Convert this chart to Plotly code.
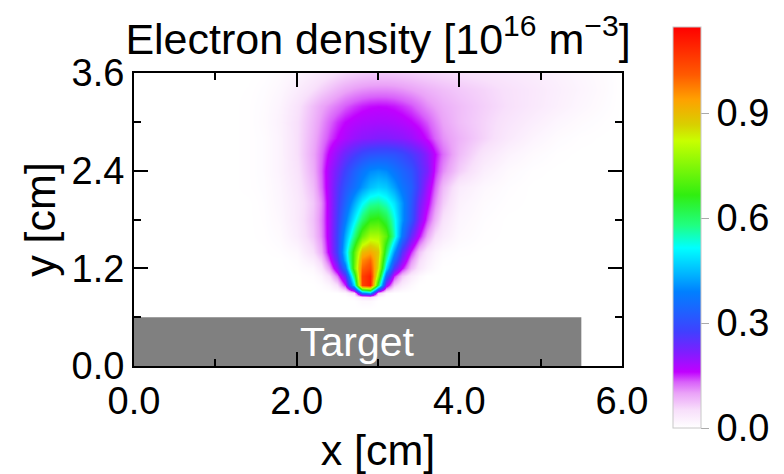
import plotly.graph_objects as go

# ---- data ----
x_cm = [0.0, 1.2, 1.4, 1.6, 1.8, 2.0,
        2.2, 2.3, 2.4, 2.5, 2.6, 2.7, 2.8,
        2.9, 3.0, 3.1, 3.2, 3.3, 3.4, 3.5,
        3.6, 3.7, 3.8, 4.0, 4.3, 4.6,
        4.9, 5.2, 5.5, 5.8, 6.0]
y_cm = [0.7, 0.8, 0.85, 0.9, 1.0, 1.1, 1.2, 1.3, 1.4, 1.6, 1.8, 2.0, 2.2,
        2.4, 2.6, 2.8, 3.0, 3.2, 3.4, 3.6]

# electron density [1e16 m^-3], one list per y row, columns follow x_cm
ne_070 = [0, 0, 0, 0, 0, 0,  0, 0, 0, 0, 0, 0, 0,  0, 0, 0, 0, 0, 0, 0,  0, 0, 0, 0, 0, 0,  0, 0, 0, 0, 0]
ne_080 = [0, 0, 0, 0, 0, 0,  0, 0, 0, 0, 0, 0, 0.01,  0.01, 0, 0, 0, 0, 0, 0,  0, 0, 0, 0, 0, 0,  0, 0, 0, 0, 0]
ne_085 = [0, 0, 0, 0, 0, 0,  0, 0, 0, 0, 0, 0.01, 0.04,  0.05, 0.01, 0, 0, 0, 0, 0,  0, 0, 0, 0, 0, 0,  0, 0, 0, 0, 0]
ne_090 = [0, 0, 0, 0, 0, 0,  0, 0, 0, 0, 0.008, 0.05, 0.36,  0.42, 0.07, 0.008, 0, 0, 0, 0,  0, 0, 0, 0, 0, 0,  0, 0, 0, 0, 0]
ne_100 = [0, 0, 0, 0, 0, 0,  0, 0.004, 0.015, 0.05, 0.15, 0.48, 1.05,  1.1, 0.62, 0.2, 0.07, 0.03, 0.01, 0,  0, 0, 0, 0, 0, 0,  0, 0, 0, 0, 0]
ne_110 = [0, 0, 0, 0, 0, 0,  0.004, 0.015, 0.05, 0.12, 0.24, 0.6, 1.05,  1.1, 0.76, 0.34, 0.15, 0.07, 0.03, 0.01,  0, 0, 0, 0, 0, 0,  0, 0, 0, 0, 0]
ne_120 = [0, 0, 0, 0, 0, 0.003,  0.012, 0.04, 0.1, 0.2, 0.36, 0.72, 1.0,  1.04, 0.84, 0.48, 0.26, 0.16, 0.08, 0.04,  0.018, 0.006, 0, 0, 0, 0,  0, 0, 0, 0, 0]
ne_130 = [0, 0, 0, 0, 0, 0.006,  0.03, 0.065, 0.14, 0.25, 0.44, 0.71, 0.96,  1.0, 0.86, 0.55, 0.34, 0.21, 0.11, 0.055,  0.027, 0.011, 0.003, 0, 0, 0,  0, 0, 0, 0, 0]
ne_140 = [0, 0, 0, 0, 0.003, 0.012,  0.05, 0.09, 0.17, 0.28, 0.47, 0.7, 0.9,  0.93, 0.88, 0.61, 0.41, 0.25, 0.15, 0.075,  0.038, 0.017, 0.007, 0.002, 0, 0,  0, 0, 0, 0, 0]
ne_160 = [0, 0, 0, 0.002, 0.008, 0.03,  0.07, 0.11, 0.18, 0.28, 0.43, 0.58, 0.72,  0.79, 0.79, 0.71, 0.55, 0.37, 0.24, 0.16,  0.095, 0.05, 0.03, 0.01, 0.002, 0,  0, 0, 0, 0, 0]
ne_180 = [0, 0, 0, 0.003, 0.012, 0.035,  0.075, 0.115, 0.18, 0.27, 0.38, 0.5, 0.6,  0.67, 0.68, 0.63, 0.53, 0.41, 0.31, 0.21,  0.14, 0.085, 0.045, 0.015, 0.004, 0,  0, 0, 0, 0, 0]
ne_200 = [0, 0, 0, 0.004, 0.015, 0.035,  0.07, 0.11, 0.18, 0.26, 0.34, 0.43, 0.51,  0.56, 0.57, 0.54, 0.49, 0.41, 0.32, 0.23,  0.17, 0.11, 0.065, 0.022, 0.007, 0.002,  0, 0, 0, 0, 0]
ne_220 = [0, 0, 0.002, 0.005, 0.017, 0.04,  0.08, 0.125, 0.185, 0.25, 0.31, 0.36, 0.41,  0.45, 0.47, 0.46, 0.42, 0.37, 0.33, 0.26,  0.19, 0.13, 0.08, 0.032, 0.012, 0.004,  0, 0, 0, 0, 0]
ne_240 = [0, 0, 0.002, 0.006, 0.02, 0.045,  0.09, 0.13, 0.185, 0.23, 0.28, 0.33, 0.37,  0.4, 0.41, 0.4, 0.37, 0.34, 0.31, 0.26,  0.22, 0.15, 0.11, 0.065, 0.026, 0.009,  0.002, 0, 0, 0, 0]
ne_260 = [0, 0, 0.002, 0.006, 0.02, 0.05,  0.095, 0.125, 0.165, 0.2, 0.235, 0.265, 0.29,  0.305, 0.31, 0.31, 0.305, 0.29, 0.265, 0.24,  0.205, 0.16, 0.125, 0.08, 0.042, 0.02,  0.008, 0.002, 0, 0, 0]
ne_280 = [0, 0, 0.002, 0.006, 0.02, 0.05,  0.09, 0.115, 0.14, 0.16, 0.178, 0.195, 0.205,  0.21, 0.215, 0.215, 0.21, 0.205, 0.193, 0.175,  0.155, 0.13, 0.108, 0.086, 0.06, 0.036,  0.018, 0.007, 0.002, 0, 0]
ne_300 = [0, 0, 0.002, 0.008, 0.022, 0.05,  0.085, 0.106, 0.128, 0.146, 0.16, 0.17, 0.177,  0.18, 0.182, 0.181, 0.178, 0.172, 0.162, 0.15,  0.135, 0.115, 0.098, 0.078, 0.06, 0.043,  0.028, 0.015, 0.007, 0.002, 0]
ne_320 = [0, 0, 0.002, 0.007, 0.019, 0.045,  0.078, 0.095, 0.108, 0.12, 0.133, 0.144, 0.152,  0.157, 0.159, 0.158, 0.154, 0.147, 0.137, 0.124,  0.11, 0.1, 0.09, 0.078, 0.063, 0.05,  0.037, 0.025, 0.014, 0.005, 0]
ne_340 = [0, 0, 0.001, 0.005, 0.013, 0.03,  0.05, 0.062, 0.073, 0.084, 0.094, 0.102, 0.107,  0.11, 0.111, 0.111, 0.109, 0.105, 0.099, 0.093,  0.087, 0.082, 0.077, 0.069, 0.059, 0.048,  0.038, 0.027, 0.017, 0.007, 0]
ne_360 = [0, 0, 0, 0.002, 0.008, 0.017,  0.03, 0.037, 0.044, 0.051, 0.057, 0.062, 0.066,  0.068, 0.069, 0.069, 0.068, 0.066, 0.064, 0.061,  0.059, 0.057, 0.055, 0.051, 0.045, 0.038,  0.031, 0.023, 0.014, 0.006, 0]

density_rows = [ne_070, ne_080, ne_085, ne_090, ne_100, ne_110, ne_120, ne_130,
                ne_140, ne_160, ne_180, ne_200, ne_220, ne_240, ne_260, ne_280,
                ne_300, ne_320, ne_340, ne_360]

cbar_ticks = [0.0, 0.3, 0.6, 0.9]
x_ticks = [0.0, 2.0, 4.0, 6.0]
y_ticks = [0.0, 1.2, 2.4, 3.6]
target_x = [0.0, 5.5]
target_y = [0.0, 0.6]

# ---- style ----
FONT = "Liberation Sans"
CMAX = 1.146
colorscale = [
    [0.000, "#ffffff"],
    [0.044, "#f8e0fb"],
    [0.087, "#eaa2f8"],
    [0.115, "#d860fa"],
    [0.140, "#c000ff"],
    [0.192, "#7a20ff"],
    [0.240, "#4040ff"],
    [0.288, "#2060ff"],
    [0.340, "#0080ff"],
    [0.380, "#00b0ff"],
    [0.449, "#00ffff"],
    [0.506, "#20ff80"],
    [0.581, "#30ee10"],
    [0.716, "#c8ff00"],
    [0.756, "#d8d000"],
    [0.820, "#ffa000"],
    [0.881, "#ff5a00"],
    [1.000, "#ff0000"],
]

# the page adds an 8 px body margin, so the figure is 8 px smaller than the window
FW, FH = 776, 466
L, T = 126, 65
PW, PH = 488, 293
R, B = FW - L - PW, FH - T - PH

fig = go.Figure()
fig.add_trace(go.Heatmap(
    x=x_cm, y=y_cm, z=density_rows,
    zmin=0, zmax=CMAX, zsmooth="best",
    colorscale=colorscale,
    colorbar=dict(
        x=(673 - 8 - L) / PW, xanchor="left", xpad=0, ypad=0,
        y=(T + PH - (227.5 - 8)) / PH, yanchor="middle",
        lenmode="pixels", len=401, thicknessmode="pixels", thickness=28,
        outlinecolor="#c8c8c8", outlinewidth=1,
        tickvals=cbar_ticks, tickformat=".1f",
        ticks="outside", ticklen=8, tickcolor="#aaaaaa", tickwidth=1,
        tickfont=dict(family=FONT, size=38, color="black"),
    ),
    hoverinfo="skip",
))

fig.add_shape(type="rect", x0=target_x[0], x1=target_x[1], y0=target_y[0], y1=target_y[1],
              xref="x", yref="y", fillcolor="#808080", line=dict(width=0), layer="below")
fig.add_annotation(x=sum(target_x) / 2, y=sum(target_y) / 2, text="Target", showarrow=False,
                   font=dict(family=FONT, size=41, color="white"), xref="x", yref="y")

axis_common = dict(
    showline=True, linecolor="black", linewidth=2, mirror="allticks",
    ticks="inside", ticklen=14, tickwidth=2, tickcolor="black",
    showgrid=False, zeroline=False, tickformat=".1f",
    tickfont=dict(family=FONT, size=38, color="black"),
)

fig.update_xaxes(range=[0, 6], tickvals=x_ticks,
                 minor=dict(dtick=1, tick0=0, ticks="inside", ticklen=7, tickwidth=2, tickcolor="black"),
                 title=dict(text="x [cm]", font=dict(family=FONT, size=43, color="black"), standoff=20),
                 **axis_common)
fig.update_yaxes(range=[0, 3.6], tickvals=y_ticks,
                 minor=dict(dtick=0.6, tick0=0, ticks="inside", ticklen=7, tickwidth=2, tickcolor="black"),
                 title=dict(text="y [cm]", font=dict(family=FONT, size=43, color="black"), standoff=3),
                 **axis_common)

fig.update_layout(
    width=FW, height=FH,
    margin=dict(l=L, r=R, t=T, b=B, autoexpand=False),
    paper_bgcolor="white", plot_bgcolor="white",
    title=dict(text="Electron density [10<sup>16</sup> m<sup>\u22123</sup>]",
               x=0.5, xanchor="center", xref="paper",
               y=1 - 31 / FH, yanchor="middle", yref="container",
               font=dict(family=FONT, size=43, color="black")),
    font=dict(family=FONT, color="black"),
)

fig.write_html("out.html")
